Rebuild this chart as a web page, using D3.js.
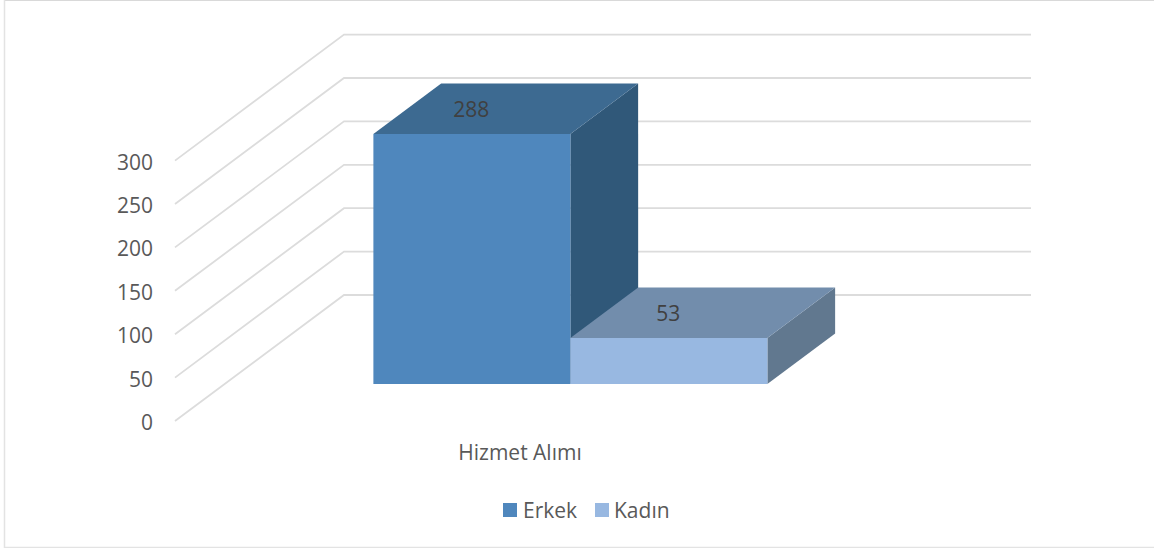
<!DOCTYPE html>
<html><head><meta charset="utf-8">
<script src="https://cdn.jsdelivr.net/npm/d3@7"></script>
<style>html,body{margin:0;padding:0;background:#fff}svg{display:block}text{font-family:"Open Sans",sans-serif}</style>
</head><body><div id="chart"></div>
<script>
const categories = ["Hizmet Alımı"];
const seriesNames = ["Erkek", "Kadın"];
const seriesValues = [288, 53];
const yTicks = [0, 50, 100, 150, 200, 250, 300];
const frontColors = ["#4f87bd", "#98b8e1"];
const topColors = ["#3d6a91", "#728dac"];
const sideColors = ["#305879", "#61788f"];

const W = 1154, H = 548;
const svg = d3.select("#chart").append("svg").attr("width", W).attr("height", H);

// Oblique projection: u along the floor, v up, d into the depth (0 front .. 1 back)
const uScale = d3.scaleLinear().domain([0, 1]).range([175, 862]);
const vScale = d3.scaleLinear().domain([0, 300]).range([421, 160.6]);
const dxScale = d3.scaleLinear().domain([0, 1]).range([0, 169]);
const dyScale = d3.scaleLinear().domain([0, 1]).range([0, -126]);
const band = d3.scaleBand().domain(seriesNames).range([0, 1]).paddingInner(0).paddingOuter(0.7437).align(0.5075);
const depthStart = 0.294, depthEnd = 0.695;
const proj = (u, v, d) => [uScale(u) + dxScale(d), vScale(v) + dyScale(d)];
const line = d3.line();
const poly = pts => line(pts) + "Z";

// frame
svg.append("path").attr("d", `M4.5,0.5H${W}`).attr("stroke", "#d9d9d9").attr("fill", "none");
svg.append("path").attr("d", `M4.5,0V547.5H${W}`).attr("stroke", "#e3e3e3").attr("stroke-width", 1.5).attr("fill", "none");

// gridlines
svg.append("g").selectAll("path").data(yTicks).join("path")
  .attr("d", t => line([proj(0, t, 0), proj(0, t, 1), [1031, vScale(t) + dyScale(1)]]))
  .attr("fill", "none").attr("stroke", "#dcdcdc").attr("stroke-width", 1.8);

// y tick labels
svg.append("g").selectAll("text").data(yTicks).join("text")
  .attr("x", 153).attr("y", t => vScale(t) + 1.5).attr("dy", "0.36em")
  .attr("text-anchor", "end").attr("font-size", 21).attr("fill", "#595959").text(t => t);

// bars
const rows = seriesNames.map((name, i) => ({name, i, value: seriesValues[i]}));
const bars = svg.append("g").selectAll("g").data(rows).join("g");
const x0 = r => band(r.name), x1 = r => band(r.name) + band.bandwidth();
bars.append("path").attr("fill", r => sideColors[r.i])
  .attr("d", r => poly([proj(x1(r), 0, depthStart), proj(x1(r), r.value, depthStart), proj(x1(r), r.value, depthEnd), proj(x1(r), 0, depthEnd)]));
bars.append("path").attr("fill", r => topColors[r.i])
  .attr("d", r => poly([proj(x0(r), r.value, depthStart), proj(x1(r), r.value, depthStart), proj(x1(r), r.value, depthEnd), proj(x0(r), r.value, depthEnd)]));
bars.append("path").attr("fill", r => frontColors[r.i])
  .attr("d", r => poly([proj(x0(r), 0, depthStart), proj(x1(r), 0, depthStart), proj(x1(r), r.value, depthStart), proj(x0(r), r.value, depthStart)]));

// data labels
svg.append("g").selectAll("text").data(rows).join("text")
  .attr("x", r => proj(x0(r) + band.bandwidth() / 2, r.value, depthStart)[0] - 0.5)
  .attr("y", r => proj(0, r.value, (depthStart + depthEnd) / 2)[1] + 0.5)
  .attr("dy", "0.36em").attr("text-anchor", "middle").attr("font-size", 21).attr("fill", "#404040")
  .text(r => r.value);

// category label
svg.append("text").attr("x", 520).attr("y", 452.5).attr("dy", "0.36em").attr("text-anchor", "middle")
  .attr("font-size", 21).attr("fill", "#595959").text(categories[0]);

// legend
const legendX = d3.scaleOrdinal().domain(seriesNames).range([503, 595]);
const legend = svg.append("g").selectAll("g").data(rows).join("g");
legend.append("rect").attr("x", r => legendX(r.name)).attr("y", 503).attr("width", 14).attr("height", 14).attr("fill", r => frontColors[r.i]);
legend.append("text").attr("x", (r, i) => legendX(r.name) + 20 - i).attr("y", 510).attr("dy", "0.36em")
  .attr("font-size", 21).attr("fill", "#595959").text(r => r.name);
</script></body></html>
